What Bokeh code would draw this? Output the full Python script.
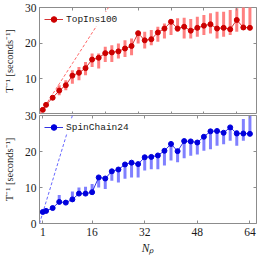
from bokeh.plotting import figure
from bokeh.layouts import column
from bokeh.models import Range1d, LinearAxis, FixedTicker, Legend, LegendItem, ColumnDataSource
from bokeh.embed import file_html
from bokeh.resources import INLINE

# ---------------- data ----------------
N = [1, 2, 4, 6, 8, 10, 12, 14, 16, 18, 20, 22, 24, 26, 28, 30, 32,
     34, 36, 38, 40, 42, 44, 46, 48, 50, 52, 54, 56, 58, 60, 62, 64]

top_name = "TopIns100"
top_mid = [1.3, 2.7, 4.7, 6.7, 8.2, 10.9, 11.7, 13.0, 15.4, 15.9, 17.2, 17.4, 17.7,
           18.5, 19.2, 22.8, 20.8, 21.1, 23.0, 24.1, 26.0, 24.1, 24.6, 23.5, 24.3,
           24.9, 25.3, 24.1, 24.3, 23.9, 26.5, 24.4, 24.3]
top_low = [1.3, 2.5, 4.3, 5.4, 6.8, 8.6, 9.6, 11.0, 13.3, 12.9, 14.7, 14.7, 15.7,
           16.1, 16.6, 19.9, 18.5, 19.4, 20.4, 21.3, 22.3, 23.2, 21.3, 21.3, 21.8,
           22.3, 22.7, 21.3, 21.8, 22.3, 23.2, 23.7, 23.7]
top_high = [1.3, 3.0, 5.3, 8.2, 9.6, 12.4, 13.3, 14.7, 17.1, 17.1, 19.0, 19.4, 19.9,
            20.8, 21.3, 23.4, 23.2, 23.7, 24.6, 25.5, 26.5, 27.0, 27.1, 26.8, 27.4,
            27.9, 28.4, 28.8, 28.8, 29.3, 29.8, 30.5, 30.5]
top_ideal_rate = 1.43

bot_name = "SpinChain24"
bot_mid = [3.2, 3.5, 4.3, 6.0, 5.8, 6.7, 8.3, 8.3, 8.7, 12.8, 12.5, 14.5, 15.0,
           16.4, 16.9, 16.5, 18.4, 18.5, 18.9, 20.2, 22.1, 20.1, 22.9, 22.8, 22.5,
           24.1, 25.6, 25.7, 25.2, 26.7, 25.0, 25.0, 24.9]
bot_low = [3.2, 3.5, 4.3, 6.0, 5.8, 6.7, 8.3, 8.3, 8.7, 10.0, 9.6, 11.9, 11.4,
           12.4, 12.8, 12.8, 14.7, 15.1, 15.1, 16.1, 17.5, 17.0, 18.1, 18.8, 19.2,
           20.2, 20.6, 21.6, 22.0, 23.0, 21.6, 23.0, 24.9]
bot_high = [3.2, 3.5, 4.3, 7.9, 6.5, 8.9, 10.0, 10.2, 11.0, 12.8, 12.5, 14.5, 15.0,
            16.4, 16.9, 16.5, 18.4, 18.5, 18.9, 20.2, 22.1, 20.1, 22.9, 22.8, 22.5,
            24.1, 25.6, 25.7, 25.2, 26.7, 26.0, 29.0, 29.9]
bot_ideal_rate = 3.0

top_x_ticks = [0, 10, 20, 30, 40, 50, 60]
bot_x_ticks = [1, 16, 32, 48, 64]
top_y_ticks = [10, 20, 30]
bot_y_ticks = [0, 10, 20, 30]
all_y_ticks = [0, 10, 20, 30]
x_min, x_max = 0, 66
y_min, y_max = 0, 30

# ---------------- style ----------------
SERIF = "Liberation Serif"
MONO = "Liberation Mono"
AX_COL = "#8c8c8c"
TXT_COL = "#1a1a1a"
TICK_FS = "11.5px"

x_range = Range1d(x_min, x_max)


def style_axis(ax, ticks, labels=True):
    ax.ticker = FixedTicker(ticks=ticks)
    ax.axis_line_color = None
    ax.major_tick_line_color = AX_COL
    ax.major_tick_in = 3
    ax.major_tick_out = 0
    ax.minor_tick_line_color = None
    if labels:
        ax.major_label_text_font = SERIF
        ax.major_label_text_font_size = TICK_FS
        ax.major_label_text_color = TXT_COL
        ax.major_label_standoff = 3
    else:
        ax.major_label_text_font_size = "0px"
        ax.major_label_text_color = None
        ax.major_label_standoff = 0


def make_panel(mid, low, high, rate, name, main_col, bar_col, dash_col,
               x_ticks, y_ticks, top_border, frame_h, bottom_border, show_x):
    p = figure(x_range=x_range, y_range=Range1d(y_min, y_max),
               frame_width=217, frame_height=frame_h,
               min_border_left=37, min_border_right=2,
               min_border_top=top_border, min_border_bottom=bottom_border,
               output_backend="svg", toolbar_location=None,
               x_axis_location=None, y_axis_location=None)
    p.grid.visible = False
    p.outline_line_color = AX_COL
    p.outline_line_width = 1
    p.background_fill_color = "white"
    p.border_fill_color = None

    # axes
    left = LinearAxis()
    style_axis(left, y_ticks, True)
    left.axis_label = "T\u207b\u00b9 [seconds\u207b\u00b9]"
    left.axis_label_text_font = SERIF
    left.axis_label_text_font_style = "normal"
    left.axis_label_text_font_size = "10.5px"
    left.axis_label_text_color = TXT_COL
    left.axis_label_standoff = 7
    p.add_layout(left, "left")

    right = LinearAxis()
    style_axis(right, all_y_ticks, False)
    p.add_layout(right, "right")

    above = LinearAxis()
    style_axis(above, x_ticks, False)
    p.add_layout(above, "above")

    below = LinearAxis()
    style_axis(below, x_ticks, show_x)
    if show_x:
        below.major_label_standoff = 4
        below.axis_label = "N\u209a"
        below.axis_label_text_font = SERIF
        below.axis_label_text_font_style = "italic"
        below.axis_label_text_font_size = "11.5px"
        below.axis_label_text_color = TXT_COL
        below.axis_label_standoff = 3
    p.add_layout(below, "below")

    src = ColumnDataSource(dict(n=N, mid=mid, low=low, high=high))
    p.segment(x0="n", y0="low", x1="n", y1="high", source=src,
              line_color=bar_col, line_width=3, line_cap="butt")

    ideal_n = [0] + N
    ideal_v = [rate * n for n in ideal_n]
    p.line(ideal_n, ideal_v, line_color=dash_col, line_width=1, line_dash="3 2")

    ln = p.line(x="n", y="mid", source=src, line_color=main_col, line_width=0.8)
    sc = p.scatter(x="n", y="mid", source=src, marker="circle", size=5,
                   fill_color=main_col, line_color=main_col)

    legend = Legend(items=[LegendItem(label=name, renderers=[ln, sc])],
                    location="top_left", margin=5, padding=5, spacing=0,
                    glyph_width=19, glyph_height=14, label_height=14,
                    label_standoff=3, label_text_font=MONO,
                    label_text_font_size="9.5px", label_text_color=TXT_COL,
                    background_fill_color="white", background_fill_alpha=1,
                    border_line_color=None)
    p.add_layout(legend)
    return p


top = make_panel(top_mid, top_low, top_high, top_ideal_rate, top_name,
                 "#cc0000", "#ff8080", "#ff6666",
                 top_x_ticks, top_y_ticks, 6, 107, 0, False)
bot = make_panel(bot_mid, bot_low, bot_high, bot_ideal_rate, bot_name,
                 "#0000dd", "#8080ff", "#6666ff",
                 bot_x_ticks, bot_y_ticks, 7, 108, 33, True)
bot.margin = (-6, 0, 0, 0)

layout = column(top, bot, margin=(1, 0, 0, 0), spacing=0)

open("out.html", "w").write(file_html(layout, INLINE))
